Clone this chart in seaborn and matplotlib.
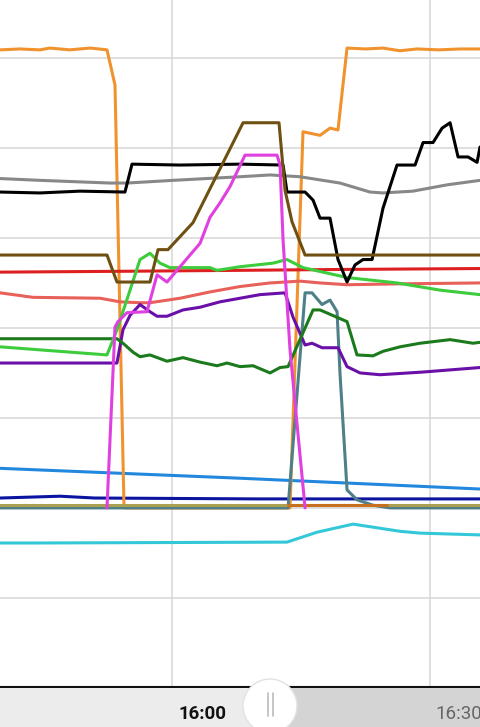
import pandas as pd
import matplotlib.pyplot as plt
import seaborn as sns
from matplotlib.patches import Circle, Rectangle

# x = minutes relative to 16:00, y = chart units (grid every 10)
orange_t = [-20, -17.7, -15.35, -14.2, -11.9, -9.5, -7.56, -6.63, -5.58, 13.72, 15.23, 17.21, 18.37, 19.3, 20.35, 22.5, 24.5, 26.5, 28.5, 31, 33.5, 35.81]
orange_v = [50.9, 51.0, 50.9, 51.1, 50.9, 51.1, 50.9, 47.0, 0.0, 0.0, 41.8, 41.4, 42.2, 42.0, 51.1, 51.0, 51.1, 50.8, 51.0, 50.9, 51.0, 51.0]

black_t = [-20, -15.35, -10.7, -5.47, -4.65, 0.93, 7.91, 12.91, 13.37, 15.47, 16.4, 17.21, 18.37, 19.3, 20.35, 21.28, 22.21, 23.26, 24.53, 26.16, 28.26, 29.19, 30.35, 31.4, 32.33, 33.26, 34.42, 35.47, 35.81]
black_v = [35.1, 35.0, 35.2, 35.1, 38.2, 38.1, 38.2, 38.1, 35.1, 35.1, 34.2, 32.2, 32.2, 27.6, 25.1, 27.0, 27.6, 27.6, 33.3, 38.1, 38.1, 40.6, 40.6, 42.2, 42.8, 39.0, 39.0, 38.4, 40.1]

gray_t = [-20, -15.35, -7.21, -5.23, 0.12, 7.91, 11.4, 14.88, 19.53, 23.02, 24.53, 28.02, 31.98, 35.81]
gray_v = [36.6, 36.4, 36.1, 36.1, 36.4, 36.8, 37.0, 36.8, 36.1, 35.1, 35.0, 35.2, 35.9, 36.4]

brown_t = [-20, -7.56, -6.4, -2.56, -1.63, -0.47, 2.44, 8.26, 12.44, 13.14, 13.95, 15.47, 35.81]
brown_v = [28.1, 28.1, 25.1, 25.1, 28.7, 28.7, 31.7, 42.8, 42.8, 35.3, 31.8, 28.1, 28.1]

magenta_t = [-7.56, -6.63, -6.28, -5.23, -2.91, -1.74, -0.58, 0.58, 2.09, 3.26, 4.42, 5.58, 6.74, 8.49, 12.21, 12.56, 12.91, 13.72, 14.53, 15.47]
magenta_v = [0.0, 20.1, 20.7, 21.7, 21.8, 25.9, 25.1, 26.4, 28.1, 29.4, 32.3, 33.9, 35.7, 39.2, 39.2, 38.1, 29.8, 17.6, 9.4, 0.0]

lightgreen_t = [-20, -7.56, -6.4, -4.88, -3.72, -2.56, -1.4, -0.23, 4.42, 5.23, 7.91, 11.74, 13.37, 15.23, 20.35, 26.16, 31.16, 35.81]
lightgreen_v = [17.9, 17.0, 19.8, 24.2, 27.6, 28.3, 27.2, 26.7, 26.7, 26.4, 26.8, 27.2, 27.6, 26.7, 25.6, 25.0, 24.2, 23.7]

red_t = [-20, -5, 7.91, 20, 35.81]
red_v = [26.2, 26.3, 26.4, 26.5, 26.6]

salmon_t = [-20, -16.16, -8.37, -6.05, -3.72, -2.56, 0.93, 4.42, 7.91, 11.4, 14.88, 17.21, 20.35, 26.51, 35.81]
salmon_v = [23.9, 23.4, 23.3, 22.9, 22.8, 22.8, 23.3, 24.0, 24.6, 25.0, 25.2, 25.0, 24.8, 24.9, 25.0]

purple_t = [-20, -6.4, -5.7, -4.88, -3.72, -2.56, -1.74, -0.58, 1.28, 3.26, 5.58, 7.91, 10.23, 13.14, 14.07, 15.47, 16.28, 17.44, 19.3, 20.35, 21.86, 24.19, 29.19, 35.81]
purple_v = [16.1, 16.1, 19.8, 21.4, 22.6, 21.8, 21.3, 21.3, 22.0, 22.3, 22.9, 23.3, 23.7, 23.9, 21.2, 18.1, 18.3, 17.8, 17.8, 15.7, 15.0, 14.8, 15.1, 15.6]

darkgreen_t = [-20, -6.4, -5.7, -4.53, -3.72, -2.56, -0.58, 1.28, 3.26, 5.23, 6.4, 7.91, 9.42, 11.4, 12.56, 13.49, 16.4, 17.21, 20.35, 21.51, 23.37, 24.53, 26.51, 28.84, 32.33, 35.0, 35.81]
darkgreen_v = [18.8, 18.8, 18.3, 17.3, 16.8, 17.0, 16.3, 16.7, 16.2, 15.8, 16.1, 15.7, 15.8, 15.0, 15.6, 15.7, 22.0, 22.0, 20.7, 17.0, 16.9, 17.4, 17.9, 18.3, 18.7, 18.3, 18.4]

teal_t = [-20, 13.49, 15.47, 16.28, 17.44, 18.37, 19.19, 19.53, 20.35, 21.51, 23.37, 25.35, 35.81]
teal_v = [0.0, 0.0, 23.9, 23.9, 22.6, 23.1, 21.8, 15.0, 2.0, 0.9, 0.3, 0.0, 0.0]

khaki_t = [-20, 35.81]
khaki_v = [0.35, 0.35]

rust_t = [13.5, 25.0]
rust_v = [0.3, 0.3]

blue_t = [-20, 7.91, 35.81]
blue_v = [4.4, 3.3, 2.1]

navy_t = [-20, -13, -9, 10, 35.81]
navy_v = [1.1, 1.3, 1.1, 1.0, 1.0]

cyan_t = [-20, -16.16, 13.37, 16.86, 21.05, 26.51, 28.84, 35.81]
cyan_v = [-3.9, -3.9, -3.8, -2.7, -1.8, -2.6, -2.8, -3.0]

# drawing order, bottom first
series = {
    "cyan": (cyan_t, cyan_v),
    "blue": (blue_t, blue_v),
    "navy": (navy_t, navy_v),
    "orange": (orange_t, orange_v),
    "teal": (teal_t, teal_v),
    "khaki": (khaki_t, khaki_v),
    "rust": (rust_t, rust_v),
    "salmon": (salmon_t, salmon_v),
    "red": (red_t, red_v),
    "purple": (purple_t, purple_v),
    "darkgreen": (darkgreen_t, darkgreen_v),
    "lightgreen": (lightgreen_t, lightgreen_v),
    "gray": (gray_t, gray_v),
    "black": (black_t, black_v),
    "brown": (brown_t, brown_v),
    "magenta": (magenta_t, magenta_v),
}

palette = {
    "cyan": "#33c8d8", "blue": "#2288dd", "navy": "#0a14a0", "teal": "#4f7f88",
    "khaki": "#aaa050", "rust": "#c8701e", "salmon": "#e8605a", "red": "#dd1f1f",
    "purple": "#6a10a8", "darkgreen": "#1b7a1b", "lightgreen": "#3ccc3c",
    "gray": "#888888", "black": "#000000", "brown": "#6e5012",
    "magenta": "#e040e0", "orange": "#f0922e",
}

rows = []
for name, (t, v) in series.items():
    for a, b in zip(t, v):
        rows.append((a, b, name))
df = pd.DataFrame(rows, columns=["minute", "value", "sensor"])

sns.set_style("white")
fig = plt.figure(figsize=(4.8, 7.27), dpi=100)
ax = fig.add_axes([0, 40 / 727, 1, 687 / 727])

sns.lineplot(data=df, x="minute", y="value", hue="sensor", hue_order=list(series),
             palette=palette, estimator=None, sort=False, linewidth=2.2,
             legend=False, ax=ax)

ax.set_xlim(-20, 35.81)
ax.set_ylim(-19.9, 56.44)
ax.set_xticks([0, 30])
ax.set_yticks(range(-10, 51, 10))
ax.grid(True, color="#d6d6d6", lw=1.1)
ax.set_axisbelow(True)
ax.tick_params(length=0, labelbottom=False, labelleft=False)
ax.set_xlabel("")
ax.set_ylabel("")
for s in ["top", "left", "right"]:
    ax.spines[s].set_visible(False)
ax.spines["bottom"].set_color("#111111")
ax.spines["bottom"].set_linewidth(1.5)

# bottom time slider band
over = fig.add_axes([0, 0, 1, 1], zorder=5)
over.set_xlim(0, 480)
over.set_ylim(727, 0)
over.axis("off")
over.patch.set_alpha(0)
over.add_patch(Rectangle((0, 688), 270, 40, color="#ececec", lw=0))
over.add_patch(Rectangle((270, 688), 210, 40, color="#d4d4d4", lw=0))
over.add_patch(Circle((270, 706), 27, facecolor="white", edgecolor="#e2e2e2", lw=1))
over.plot([267.5, 267.5], [693, 716], color="#bbbbbb", lw=1.2)
over.plot([272.5, 272.5], [693, 716], color="#bbbbbb", lw=1.2)
over.text(178, 719, "16:00", family="Roboto", fontweight="bold", fontsize=13.5,
          color="#111111", ha="left", va="baseline")
over.text(435, 719, "16:30", family="Roboto", fontsize=13.5,
          color="#666666", ha="left", va="baseline")

fig.savefig("out.png", dpi=100)
